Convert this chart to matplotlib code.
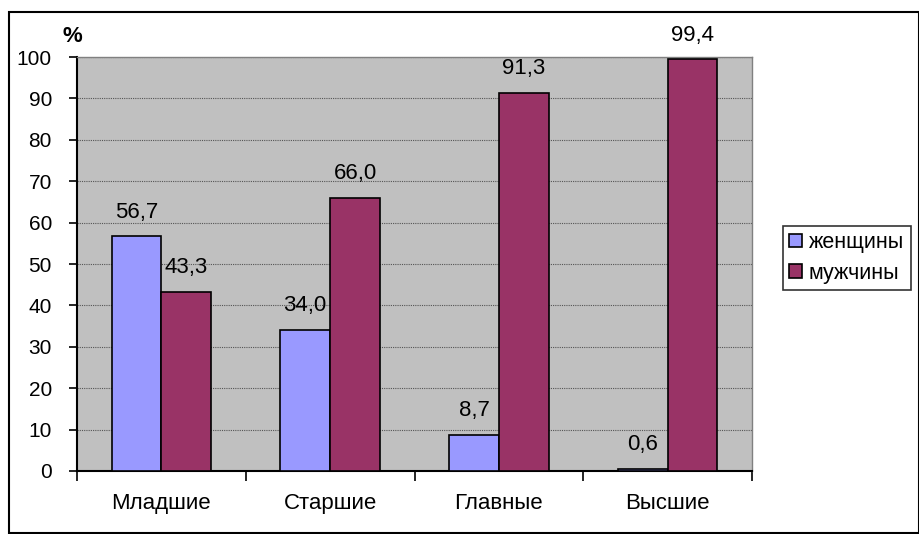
import numpy as np
import matplotlib.pyplot as plt
from matplotlib.patches import Rectangle

plt.rcParams['font.family'] = ['Liberation Sans', 'DejaVu Sans']

# данные
categories = ['Младшие', 'Старшие', 'Главные', 'Высшие']
women = [56.7, 34.0, 8.7, 0.6]
men = [43.3, 66.0, 91.3, 99.4]
series_names = ['женщины', 'мужчины']

fig = plt.figure(figsize=(9.2, 5.34), dpi=100)
ax = fig.add_axes([77/920, 1 - 471/534, (752 - 77)/920, (471 - 57)/534])
ax.set_facecolor('#C0C0C0')

x = np.arange(len(categories))
w = 0.295
b1 = ax.bar(x - w/2, women, w, color='#9999FF', edgecolor='black', linewidth=1.2,
            label=series_names[0], zorder=3)
b2 = ax.bar(x + w/2, men, w, color='#993366', edgecolor='black', linewidth=1.2,
            label=series_names[1], zorder=3)

for bars, vals in [(b1, women), (b2, men)]:
    for r, v in zip(bars, vals):
        ax.annotate(f'{v:.1f}'.replace('.', ','), (r.get_x() + r.get_width()/2, v),
                    xytext=(0, 13.5), textcoords='offset points',
                    ha='center', va='baseline', fontsize=16, annotation_clip=False)

ax.set_xlim(-0.5, len(categories) - 0.5)
ax.set_ylim(0, 100)
ax.set_yticks(np.arange(0, 101, 10))
ax.yaxis.grid(True, color='#555555', linestyle=(0, (1, 1)), linewidth=0.8, zorder=0)
ax.set_axisbelow(True)

ax.set_xticks(np.arange(-0.5, len(categories), 1))
ax.set_xticklabels([])
ax.set_xticks(x, minor=True)
ax.set_xticklabels(categories, minor=True)
ax.tick_params(axis='x', which='major', direction='out', length=7, width=1.2)
ax.tick_params(axis='x', which='minor', length=0, pad=16, labelsize=16)
ax.tick_params(axis='y', direction='out', length=6, width=1.2, labelsize=15, pad=12)

for s in ['left', 'bottom']:
    ax.spines[s].set_linewidth(1.5)
    ax.spines[s].set_color('black')
for s in ['top', 'right']:
    ax.spines[s].set_color('#808080')
    ax.spines[s].set_linewidth(1)

ax.text(-0.47, 103.6, '%', fontsize=16, fontweight='bold', ha='right', va='baseline')

leg = ax.legend(loc='center left', bbox_to_anchor=(783/920, 1 - 258/534),
                bbox_transform=fig.transFigure, fontsize=15.5, frameon=True,
                fancybox=False, edgecolor='black', handlelength=0.6, handleheight=0.6,
                handletextpad=0.3, borderpad=0.3, labelspacing=0.45, borderaxespad=0)
leg.get_frame().set_linewidth(1.2)

fig.patches.append(Rectangle((9/920, 1/534), 910/920, 521/534, transform=fig.transFigure,
                             fill=False, edgecolor='black', linewidth=1.5))

fig.savefig('out.png', dpi=100)
